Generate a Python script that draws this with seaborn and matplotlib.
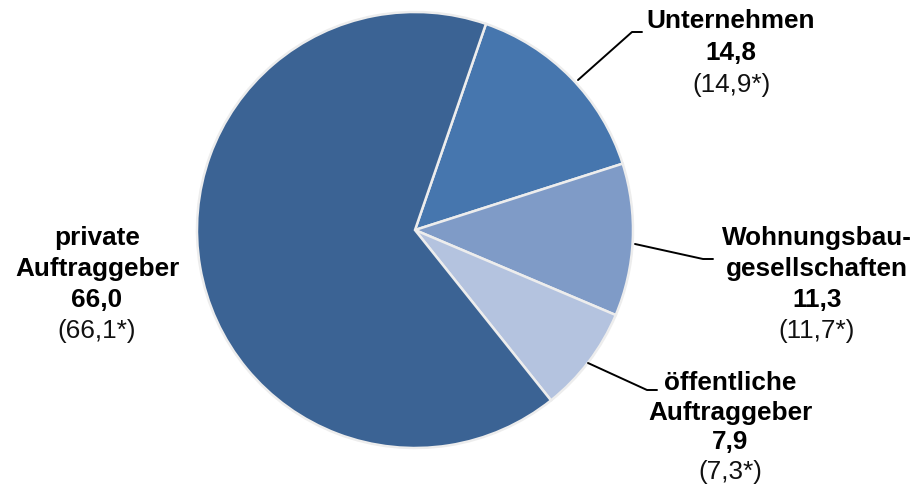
import numpy as np
import matplotlib.pyplot as plt
import seaborn as sns

# Anteile in Prozent (Vorjahr in Klammern mit *)
segments = ["Unternehmen", "Wohnungsbau-\ngesellschaften", "öffentliche\nAuftraggeber", "private\nAuftraggeber"]
values = [14.8, 11.3, 7.9, 66.0]
prev_values = [14.9, 11.7, 7.3, 66.1]
colors = ["#4676AE", "#7F9BC7", "#B4C3DF", "#3B6394"]

sns.set_theme(style="white")
plt.rcParams['font.family'] = ['Liberation Sans', 'DejaVu Sans']

fig = plt.figure(figsize=(9.21, 4.9), dpi=100)
ax = fig.add_axes([0, 0, 1, 1])
ax.set_xlim(0, 921)
ax.set_ylim(0, 490)
ax.set_aspect('equal')
ax.axis('off')

cx, cy, r = 415, 490 - 230, 218
wedges, _ = ax.pie(values, colors=colors, startangle=71, counterclock=False,
                   center=(cx, cy), radius=r, explode=[0, 0, 0, 0.015],
                   wedgeprops=dict(edgecolor="#EDEDED", linewidth=1.8))
ax.set_xlim(0, 921)
ax.set_ylim(0, 490)

def fmt(v):
    return f"{v:.1f}".replace(".", ",")

# label anchor (first line center in pixels), line spacing and leader line points
label_pos = [(731, 21, 32), (817, 238, 31), (730, 383, 29.7), (97, 238, 31)]
leaders = [
    [(578, 80), (632, 32), (642, 32)],
    [(635, 244), (703, 259), (713, 259)],
    [(588, 363), (647, 390), (657, 390)],
    None,
]

fs = 18.8
for name, v, pv, (lx, ly, lh), ld in zip(segments, values, prev_values, label_pos, leaders):
    lines = name.split("\n")
    y = ly
    for ln in lines:
        ax.text(lx, 490 - y, ln, ha='center', va='center', fontsize=fs, fontweight='bold', color='black')
        y += lh
    ax.text(lx, 490 - y, fmt(v), ha='center', va='center', fontsize=fs, fontweight='bold', color='black')
    y += lh
    ax.text(lx, 490 - y, f"({fmt(pv)}*)", ha='center', va='center', fontsize=fs, color='#111111')
    if ld is not None:
        xs = [p[0] for p in ld]
        ys = [490 - p[1] for p in ld]
        ax.plot(xs, ys, color='black', linewidth=1.4)

fig.savefig("out.png", dpi=100)
